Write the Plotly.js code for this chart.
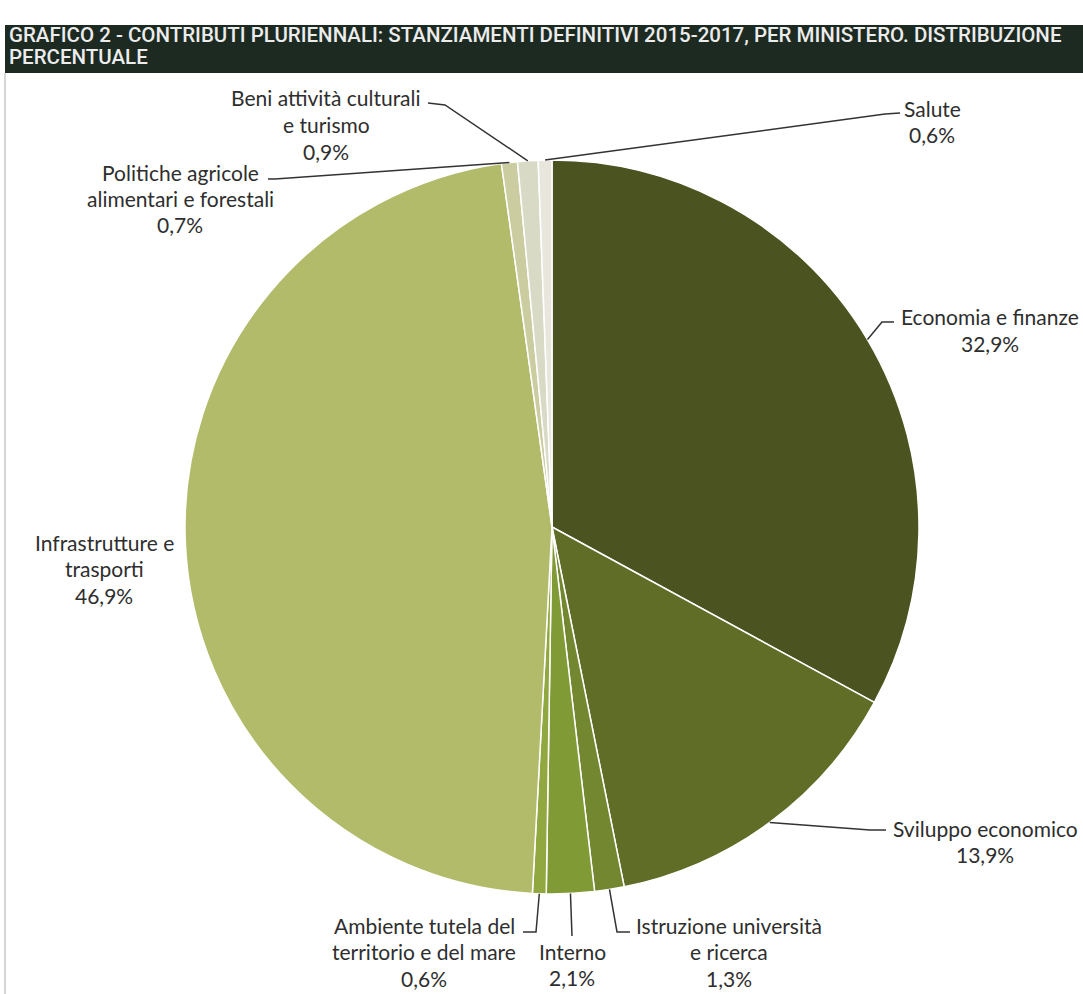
<!DOCTYPE html>
<html>
<head>
<meta charset="utf-8">
<script src="https://cdn.plot.ly/plotly-3.0.1.min.js"></script>
<style>html,body{margin:0;padding:0;background:#fff;}</style>
</head>
<body>
<div id="chart" style="width:1083px;height:994px;"></div>
<script>
const categories = ['Economia e finanze','Sviluppo economico','Istruzione università e ricerca','Interno','Ambiente tutela del territorio e del mare','Infrastrutture e trasporti','Politiche agricole alimentari e forestali','Beni attività culturali e turismo','Salute'];
const values = [32.9, 13.9, 1.3, 2.1, 0.6, 46.9, 0.7, 0.9, 0.6];
const labelLines = [['Economia e finanze'],['Sviluppo economico'],['Istruzione università','e ricerca'],['Interno'],['Ambiente tutela del','territorio e del mare'],['Infrastrutture e','trasporti'],['Politiche agricole','alimentari e forestali'],['Beni attività culturali','e turismo'],['Salute']];
const titleLines = ['GRAFICO 2 - CONTRIBUTI PLURIENNALI: STANZIAMENTI DEFINITIVI 2015-2017, PER MINISTERO. DISTRIBUZIONE','PERCENTUALE'];

// styles / layout (pixels)
const W = 1083, H = 994;
const colors = ['#4b5420','#5f6d27','#72872f','#809a35','#90a83f','#b2bb6a','#cbcc9f','#d9dac6','#e9e7dd'];
const CX = 552, CY = 527, R = 367;
const labelPos = [
  {cx: 990,  y1: 317, path: [[882,322],[894,322]]},
  {cx: 985,  y1: 828, path: [[870,830],[886,830]]},
  {cx: 729,  y1: 925, path: [[617,932],[630,932]]},
  {cx: 572,  y1: 951, path: [[572,936]]},
  {cx: 424,  y1: 925, path: [[536,932],[523,932]]},
  {cx: 104,  y1: 542, path: null},
  {cx: 180,  y1: 172, path: [[275,179],[268,179]]},
  {cx: 326,  y1: 98,  path: [[445,105],[428,103]]},
  {cx: 932,  y1: 108, path: [[885,114],[900,113]]}
];
const LINE_H = 26.5;
const FONT = 'Lato, Open Sans, sans-serif';

const px = x => x / W;
const py = y => 1 - y / H;

const total = values.reduce((a, b) => a + b, 0);
const fmt = v => v.toFixed(1).replace('.', ',') + '%';

const annotations = [];
const shapes = [];

// title bar
shapes.push({type:'rect', xref:'paper', yref:'paper', x0:px(5), x1:px(1083), y0:py(73), y1:py(25), fillcolor:'#1c2a22', line:{width:0}, layer:'below'});
shapes.push({type:'line', xref:'paper', yref:'paper', x0:px(5), x1:px(5), y0:py(73), y1:py(994), line:{color:'#c8c8c8', width:1.5}});
titleLines.forEach((t, i) => {
  annotations.push({text:t, xref:'paper', yref:'paper', x:px(7), y:py(35 + i*22), xanchor:'left', yanchor:'middle', showarrow:false,
    font:{family:'Roboto, sans-serif', size:20.5, weight:500, color:'#ececec'}});
});

let cum = 0;
values.forEach((v, i) => {
  const mid = (cum + v / 2) / total * 2 * Math.PI;
  cum += v;
  const ex = CX + R * Math.sin(mid), ey = CY - R * Math.cos(mid);
  const lp = labelPos[i];
  const lines = labelLines[i].concat([fmt(v)]);
  lines.forEach((t, k) => {
    annotations.push({text:t, xref:'paper', yref:'paper', x:px(lp.cx), y:py(lp.y1 + LINE_H*k), xanchor:'center', yanchor:'middle', showarrow:false,
      font:{family:FONT, size:21, color:'#2e2e2e'}});
  });
  if (lp.path) {
    let d = 'M ' + px(ex) + ' ' + py(ey);
    lp.path.forEach(p => { d += ' L ' + px(p[0]) + ' ' + py(p[1]); });
    shapes.push({type:'path', xref:'paper', yref:'paper', path:d, line:{color:'#333333', width:1.5}});
  }
});

const trace = {
  type:'pie', values:values, labels:categories, sort:false, direction:'clockwise', rotation:0,
  textinfo:'none', hoverinfo:'label+percent',
  marker:{colors:colors, line:{color:'#ffffff', width:1.5}},
  domain:{x:[px(CX - R), px(CX + R)], y:[py(CY + R), py(CY - R)]}
};

const layout = {
  width:W, height:H, margin:{l:0, r:0, t:0, b:0}, showlegend:false,
  paper_bgcolor:'#ffffff', plot_bgcolor:'#ffffff',
  shapes:shapes, annotations:annotations
};

Plotly.newPlot('chart', [trace], layout, {displayModeBar:false, staticPlot:true});
</script>
</body>
</html>
